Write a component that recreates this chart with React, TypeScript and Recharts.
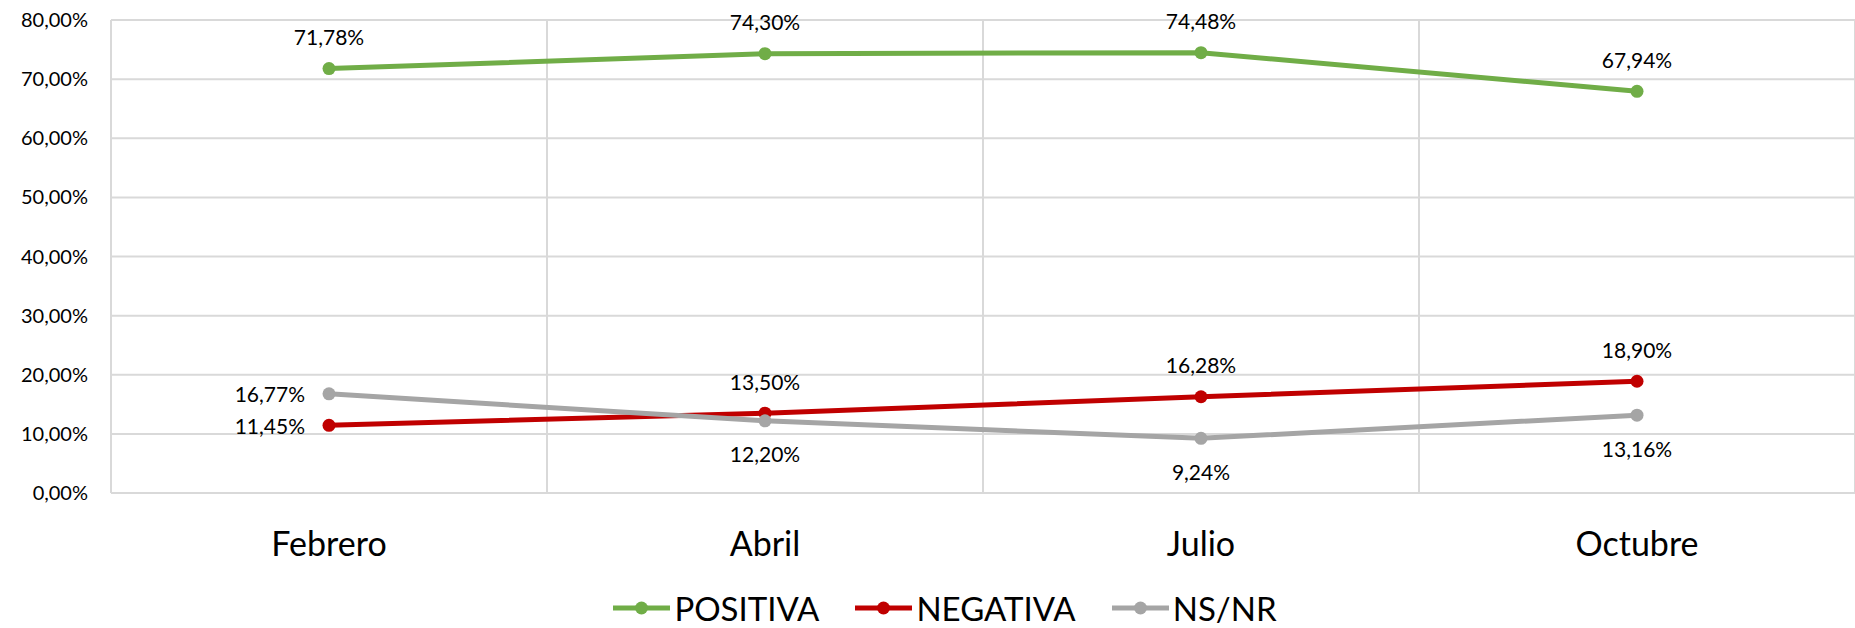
import React from "react";
import { LineChart, Line, XAxis, YAxis, CartesianGrid, Legend } from "recharts";

const FONT = "Lato, 'Noto Sans', sans-serif";

const months = ["Febrero", "Abril", "Julio", "Octubre"];
const positiva = [71.78, 74.3, 74.48, 67.94];
const negativa = [11.45, 13.5, 16.28, 18.9];
const nsnr = [16.77, 12.2, 9.24, 13.16];
const yTicks = [0, 10, 20, 30, 40, 50, 60, 70, 80];
const monthIdx = [0, 1, 2, 3];
const bandEdges = [0.5, 1.5, 2.5];

const data = months.map((m, i) => ({
  idx: monthIdx[i],
  month: m,
  positiva: positiva[i],
  negativa: negativa[i],
  nsnr: nsnr[i],
}));

// where each data label sits relative to its point
const series = [
  { key: "positiva", name: "POSITIVA", color: "#70AD47", places: ["top", "top", "top", "top"] },
  { key: "negativa", name: "NEGATIVA", color: "#C00000", places: ["left", "top", "top", "top"] },
  { key: "nsnr", name: "NS/NR", color: "#A5A5A5", places: ["left", "bottom", "bottom", "bottom"] },
];

const fmt = (v: number) => v.toFixed(2).replace(".", ",") + "%";

const makeLabel = (places: string[]) => (props: any) => {
  const { x, y, value, index } = props;
  const p = places[index];
  let tx = x;
  let ty = y;
  let anchor = "middle";
  if (p === "top") ty = y - 32;
  else if (p === "bottom") ty = y + 33;
  else {
    tx = x - 24;
    anchor = "end";
  }
  return (
    <text key={index} x={tx} y={ty} textAnchor={anchor} dominantBaseline="central"
      fontSize={21} fontFamily={FONT} fill="#000">
      {fmt(value)}
    </text>
  );
};

const XTick = (props: any) => {
  const { x, y, payload } = props;
  return (
    <text x={x} y={y + 49} textAnchor="middle" dominantBaseline="central"
      fontSize={34} fontFamily={FONT} fill="#000">
      {months[payload.value]}
    </text>
  );
};

const renderLegend = () => (
  <div style={{
    display: "flex", justifyContent: "center", alignItems: "center", height: 40, gap: 36,
    paddingLeft: 35, fontFamily: FONT, fontSize: 33, color: "#000",
  }}>
    {series.map((s) => (
      <div key={s.key} style={{ display: "flex", alignItems: "center" }}>
        <svg width={57} height={16}>
          <line x1={0} y1={8} x2={57} y2={8} stroke={s.color} strokeWidth={5} strokeLinecap="round" />
          <circle cx={28.5} cy={8} r={6.5} fill={s.color} />
        </svg>
        <span style={{ marginLeft: 4, lineHeight: "40px" }}>{s.name}</span>
      </div>
    ))}
  </div>
);

const App = () => {
  return (
    <div style={{ position: "absolute", left: 0, top: 0, background: "#fff" }}>
      <LineChart width={1855} height={628} data={data} margin={{ top: 20, right: 0, left: 0, bottom: 0 }}>
        <CartesianGrid stroke="#D9D9D9" strokeWidth={2} xAxisId="grid" />
        <XAxis dataKey="idx" type="number" domain={[-0.5, 3.5]} ticks={monthIdx}
          height={95} tickLine={false} tickSize={0} tickMargin={0}
          axisLine={{ stroke: "#D9D9D9", strokeWidth: 2 }} tick={<XTick />} />
        <XAxis xAxisId="grid" dataKey="idx" type="number" domain={[-0.5, 3.5]} ticks={bandEdges} hide />
        <YAxis domain={[0, 80]} ticks={yTicks} width={111} tickLine={false} tickSize={0} tickMargin={23}
          tickFormatter={fmt} axisLine={{ stroke: "#D9D9D9", strokeWidth: 2 }}
          tick={{ fontSize: 20, fontFamily: FONT, fill: "#000" }} />
        <Legend verticalAlign="bottom" content={renderLegend} wrapperStyle={{ left: 0, width: 1855, bottom: 0 }} />
        {series.map((s) => (
          <Line key={s.key} dataKey={s.key} name={s.name} stroke={s.color} strokeWidth={5}
            dot={{ r: 6.5, fill: s.color, stroke: s.color, strokeWidth: 0 }} activeDot={false}
            label={makeLabel(s.places)} isAnimationActive={false} />
        ))}
      </LineChart>
    </div>
  );
};

export default App;
